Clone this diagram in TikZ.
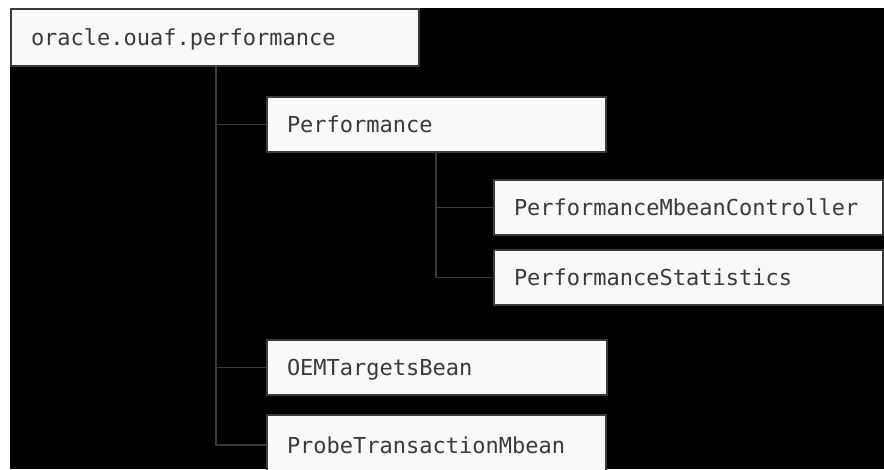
\documentclass[tikz,border=0pt]{standalone}
\usepackage{fontspec}
\newfontfamily\codefont{DejaVu Sans Mono}
\definecolor{boxfill}{HTML}{FAF9F7}
\definecolor{edgegrey}{HTML}{3C3A38}
\definecolor{labelgrey}{HTML}{3A3A3A}

\begin{document}
\begin{tikzpicture}[x=1pt, y=-1pt, line width=1pt,
    pkg/.style={draw=edgegrey, line width=2pt, fill=boxfill, text=labelgrey,
      anchor=north west, inner xsep=20pt, inner ysep=0pt, minimum height=55pt,
      text height=21pt, text depth=5pt, align=left,
      font=\codefont\fontsize{22}{26}\selectfont},
    link/.style={draw=edgegrey, line width=1.2pt}]
   	 \clip (0,0) rectangle (884,469);
   	 \fill[black] (10,8) rectangle (884,469);
   	 \node[pkg, text width=368pt, minimum height=57pt] (root) at (10,8) {oracle.ouaf.performance};
   	 \node[pkg, text width=299pt] (perf) at (266,96) {Performance};
   	 \node[pkg, text width=349pt] (ctrl) at (493,179) {PerformanceMbeanController};
   	 \node[pkg, text width=349pt] (stats) at (493,249) {PerformanceStatistics};
   	 \node[pkg, text width=300pt] (oem) at (266,339) {OEMTargetsBean};
   	 \node[pkg, text width=299pt, minimum height=60pt] (probe) at (266,414) {ProbeTransactionMbean};
   	 \coordinate (trunk) at ([xshift=206pt]root.south west);
   	 \coordinate (branch) at ([xshift=170pt]perf.south west);
   	 \draw[link] (trunk) |- (perf.west);
   	 \draw[link] (trunk) |- (oem.west);
   	 \draw[link] (trunk) |- (probe.west);
   	 \draw[link] (branch) |- (ctrl.west);
   	 \draw[link] (branch) |- (stats.west);
\end{tikzpicture}
\end{document}
